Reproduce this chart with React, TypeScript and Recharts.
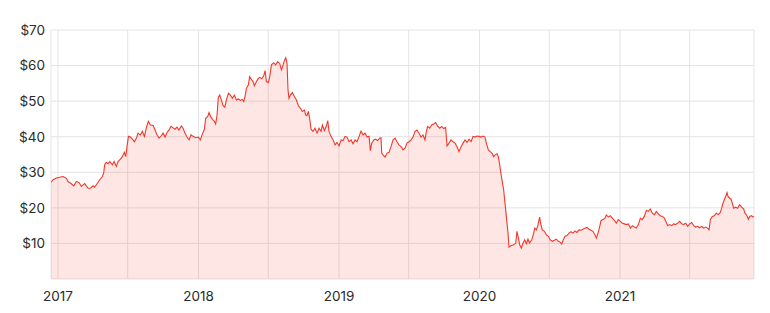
import React from "react";
import { AreaChart, Area, XAxis, YAxis, CartesianGrid } from "recharts";

const years: number[] = [
  2016.950, 2016.965, 2016.988, 2017.012, 2017.036, 2017.060, 2017.071, 2017.088, 2017.112, 2017.131,
  2017.150, 2017.166, 2017.190, 2017.214, 2017.230, 2017.249, 2017.261, 2017.273, 2017.297, 2017.316,
  2017.325, 2017.332, 2017.344, 2017.356, 2017.368, 2017.387, 2017.399, 2017.415, 2017.427, 2017.444,
  2017.458, 2017.472, 2017.482, 2017.491, 2017.501, 2017.515, 2017.529, 2017.544, 2017.558, 2017.570,
  2017.586, 2017.600, 2017.615, 2017.629, 2017.643, 2017.657, 2017.676, 2017.691, 2017.705, 2017.719,
  2017.733, 2017.748, 2017.762, 2017.776, 2017.790, 2017.805, 2017.819, 2017.833, 2017.847, 2017.861,
  2017.878, 2017.890, 2017.904, 2017.918, 2017.933, 2017.947, 2017.961, 2017.980, 2017.999, 2018.013,
  2018.028, 2018.042, 2018.051, 2018.066, 2018.075, 2018.089, 2018.103, 2018.113, 2018.122, 2018.132,
  2018.141, 2018.151, 2018.163, 2018.175, 2018.187, 2018.198, 2018.213, 2018.227, 2018.241, 2018.255,
  2018.270, 2018.284, 2018.298, 2018.312, 2018.322, 2018.331, 2018.341, 2018.355, 2018.364, 2018.376,
  2018.388, 2018.398, 2018.412, 2018.426, 2018.436, 2018.450, 2018.464, 2018.474, 2018.483, 2018.497,
  2018.507, 2018.519, 2018.535, 2018.549, 2018.564, 2018.578, 2018.590, 2018.602, 2018.611, 2018.621,
  2018.630, 2018.637, 2018.644, 2018.654, 2018.668, 2018.682, 2018.697, 2018.711, 2018.725, 2018.739,
  2018.754, 2018.763, 2018.772, 2018.782, 2018.791, 2018.801, 2018.815, 2018.829, 2018.844, 2018.858,
  2018.872, 2018.882, 2018.896, 2018.910, 2018.920, 2018.929, 2018.943, 2018.958, 2018.972, 2018.986,
  2019.000, 2019.015, 2019.029, 2019.043, 2019.057, 2019.071, 2019.086, 2019.100, 2019.114, 2019.128,
  2019.143, 2019.157, 2019.171, 2019.185, 2019.200, 2019.214, 2019.223, 2019.233, 2019.247, 2019.261,
  2019.275, 2019.290, 2019.299, 2019.304, 2019.313, 2019.328, 2019.342, 2019.356, 2019.370, 2019.385,
  2019.399, 2019.413, 2019.427, 2019.442, 2019.456, 2019.470, 2019.484, 2019.498, 2019.513, 2019.527,
  2019.541, 2019.555, 2019.570, 2019.584, 2019.598, 2019.612, 2019.622, 2019.631, 2019.646, 2019.660,
  2019.674, 2019.688, 2019.702, 2019.717, 2019.731, 2019.745, 2019.759, 2019.769, 2019.783, 2019.797,
  2019.812, 2019.826, 2019.840, 2019.854, 2019.869, 2019.883, 2019.897, 2019.911, 2019.926, 2019.940,
  2019.954, 2019.968, 2019.982, 2019.997, 2020.011, 2020.025, 2020.039, 2020.049, 2020.063, 2020.077,
  2020.092, 2020.101, 2020.111, 2020.125, 2020.134, 2020.144, 2020.156, 2020.172, 2020.179, 2020.191,
  2020.203, 2020.210, 2020.227, 2020.243, 2020.258, 2020.267, 2020.277, 2020.286, 2020.298, 2020.310,
  2020.322, 2020.334, 2020.345, 2020.357, 2020.372, 2020.386, 2020.393, 2020.405, 2020.417, 2020.428,
  2020.436, 2020.447, 2020.462, 2020.476, 2020.490, 2020.504, 2020.519, 2020.533, 2020.547, 2020.561,
  2020.576, 2020.585, 2020.595, 2020.609, 2020.623, 2020.637, 2020.651, 2020.666, 2020.680, 2020.694,
  2020.708, 2020.723, 2020.737, 2020.751, 2020.765, 2020.780, 2020.794, 2020.808, 2020.822, 2020.832,
  2020.844, 2020.856, 2020.865, 2020.879, 2020.893, 2020.903, 2020.917, 2020.931, 2020.946, 2020.960,
  2020.974, 2020.988, 2021.003, 2021.017, 2021.031, 2021.045, 2021.060, 2021.074, 2021.088, 2021.102,
  2021.116, 2021.131, 2021.145, 2021.159, 2021.173, 2021.188, 2021.202, 2021.216, 2021.230, 2021.245,
  2021.259, 2021.273, 2021.287, 2021.302, 2021.316, 2021.330, 2021.340, 2021.354, 2021.368, 2021.382,
  2021.396, 2021.411, 2021.425, 2021.439, 2021.453, 2021.468, 2021.482, 2021.496, 2021.510, 2021.525,
  2021.539, 2021.553, 2021.567, 2021.582, 2021.596, 2021.610, 2021.624, 2021.634, 2021.643, 2021.657,
  2021.672, 2021.686, 2021.700, 2021.714, 2021.724, 2021.733, 2021.743, 2021.752, 2021.762, 2021.769,
  2021.781, 2021.790, 2021.800, 2021.809, 2021.823, 2021.838, 2021.852, 2021.866, 2021.880, 2021.890,
  2021.904, 2021.914, 2021.923, 2021.937, 2021.947, 2021.954,
];

const prices: number[] = [
  27.2, 27.9, 28.4, 28.6, 28.8, 28.3, 27.4, 27.0, 26.2, 27.4,
  27.1, 26.0, 26.8, 25.5, 25.5, 26.2, 25.8, 26.5, 27.9, 28.8,
  29.8, 32.1, 32.8, 32.4, 33.0, 32.1, 33.0, 31.6, 33.0, 33.7,
  34.4, 35.6, 34.4, 37.2, 40.1, 39.9, 39.3, 38.6, 39.6, 41.0,
  40.5, 41.5, 40.1, 42.6, 44.3, 43.3, 43.2, 41.9, 40.5, 39.6,
  40.2, 41.0, 39.9, 41.2, 41.9, 42.9, 42.5, 42.1, 42.7, 41.9,
  43.0, 42.4, 41.0, 39.9, 39.1, 40.6, 40.1, 39.7, 39.9, 39.1,
  40.8, 42.1, 45.2, 45.7, 46.8, 45.5, 44.7, 44.3, 43.6, 46.1,
  51.1, 51.7, 50.3, 48.7, 48.3, 50.3, 52.2, 51.7, 50.8, 51.7,
  50.3, 50.6, 50.2, 50.5, 49.9, 51.3, 53.6, 54.6, 56.9, 56.1,
  55.5, 54.3, 55.5, 56.4, 56.7, 56.3, 57.1, 58.6, 55.5, 55.2,
  56.9, 60.2, 60.8, 60.2, 61.1, 60.6, 58.8, 60.2, 61.4, 62.2,
  60.6, 53.2, 50.8, 51.7, 52.4, 51.3, 50.3, 48.7, 48.0, 47.1,
  47.5, 46.1, 45.9, 47.1, 45.2, 42.1, 41.5, 42.4, 41.0, 42.4,
  41.5, 43.3, 41.7, 43.0, 44.5, 41.5, 40.1, 39.1, 37.7, 38.4,
  37.4, 39.1, 38.9, 40.1, 39.9, 38.6, 39.1, 38.0, 39.1, 38.6,
  40.1, 41.6, 40.5, 41.0, 39.9, 40.1, 36.1, 38.2, 39.1, 39.3,
  38.9, 39.6, 39.7, 35.4, 34.9, 34.3, 35.4, 35.6, 37.2, 39.1,
  39.6, 38.6, 37.7, 37.2, 36.3, 36.8, 38.2, 38.6, 39.1, 39.9,
  41.5, 41.9, 41.0, 39.9, 40.5, 39.1, 41.5, 42.9, 42.4, 43.3,
  43.6, 44.0, 43.0, 42.4, 42.9, 42.3, 42.6, 37.4, 38.2, 39.1,
  38.6, 38.2, 37.2, 35.8, 37.2, 38.2, 39.1, 38.4, 39.3, 38.6,
  40.1, 39.9, 40.2, 40.1, 39.9, 40.2, 39.9, 38.2, 36.3, 35.8,
  35.2, 34.4, 34.9, 35.2, 34.4, 32.1, 28.8, 25.1, 22.3, 17.6,
  12.9, 9.0, 9.4, 9.6, 10.1, 13.4, 11.5, 9.6, 8.7, 10.1,
  11.0, 9.9, 11.2, 10.1, 11.0, 12.9, 14.3, 13.8, 15.3, 17.4,
  15.5, 13.8, 13.4, 12.4, 12.0, 11.0, 10.6, 10.9, 11.2, 10.6,
  10.3, 9.8, 10.9, 12.0, 12.2, 12.9, 13.3, 12.9, 13.5, 13.1,
  13.8, 13.7, 14.0, 14.3, 14.5, 14.0, 13.7, 13.4, 12.4, 11.5,
  12.9, 14.8, 16.4, 16.7, 17.1, 18.0, 17.4, 17.8, 17.1, 16.5,
  15.7, 16.7, 16.2, 15.7, 15.5, 15.3, 15.5, 14.3, 15.0, 14.6,
  14.3, 15.3, 17.1, 16.7, 17.6, 19.3, 19.0, 19.7, 18.5, 18.1,
  19.0, 18.3, 17.8, 17.6, 17.1, 15.9, 15.0, 15.3, 15.0, 15.5,
  15.3, 15.7, 16.2, 15.5, 15.3, 15.7, 14.8, 15.5, 15.9, 15.0,
  14.6, 14.8, 14.4, 14.8, 14.3, 14.6, 14.3, 13.8, 16.7, 17.6,
  17.8, 18.5, 18.1, 18.7, 19.9, 21.3, 22.3, 23.2, 24.3, 23.2,
  22.7, 22.5, 21.3, 19.9, 20.2, 19.9, 20.9, 20.2, 19.7, 18.5,
  17.8, 16.8, 17.6, 17.8, 17.4, 17.6,
];

const xDomain: [number, number] = [2016.95, 2021.954];
const yTicks: number[] = [0, 10, 20, 30, 40, 50, 60, 70];
const yearLabels: number[] = [2017, 2018, 2019, 2020, 2021];
const gridTicks: number[] = [
  2016.95, 2017, 2017.496, 2018, 2018.496, 2019, 2019.496, 2020, 2020.497, 2021, 2021.496, 2021.954,
];

const data = years.map((y, i) => ({ year: y, price: prices[i] }));

const FONT = "Inter, 'Noto Sans', sans-serif";
const GRID = "#e4e4e4";

export default function App() {
  return (
    <div style={{ width: 760, height: 300 }}>
      <AreaChart
        width={760}
        height={300}
        data={data}
        margin={{ top: 22, right: 14, bottom: 0, left: 0 }}
      >
        <CartesianGrid stroke={GRID} strokeWidth={1} />
        <XAxis
          dataKey="year"
          type="number"
          domain={xDomain}
          allowDataOverflow
          ticks={gridTicks}
          interval={0}
          tickFormatter={(v: number) => (yearLabels.includes(v) ? String(v) : "")}
          tick={{ fill: "#2b2b2b", fontSize: 13.5, fontFamily: FONT }}
          tickLine={false}
          tickSize={0}
          tickMargin={12}
          axisLine={false}
          height={29}
        />
        <YAxis
          type="number"
          domain={[0, 70]}
          ticks={yTicks}
          interval={0}
          tickFormatter={(v: number) => (v === 0 ? "" : `$${v}`)}
          tick={{ fill: "#2b2b2b", fontSize: 13.5, fontFamily: FONT }}
          tickLine={false}
          tickSize={0}
          tickMargin={6}
          axisLine={false}
          width={43}
        />
        <Area
          type="linear"
          dataKey="price"
          stroke="#f0392b"
          strokeWidth={1.1}
          fill="#f03c2d"
          fillOpacity={0.13}
          isAnimationActive={false}
          dot={false}
          activeDot={false}
        />
      </AreaChart>
    </div>
  );
}
